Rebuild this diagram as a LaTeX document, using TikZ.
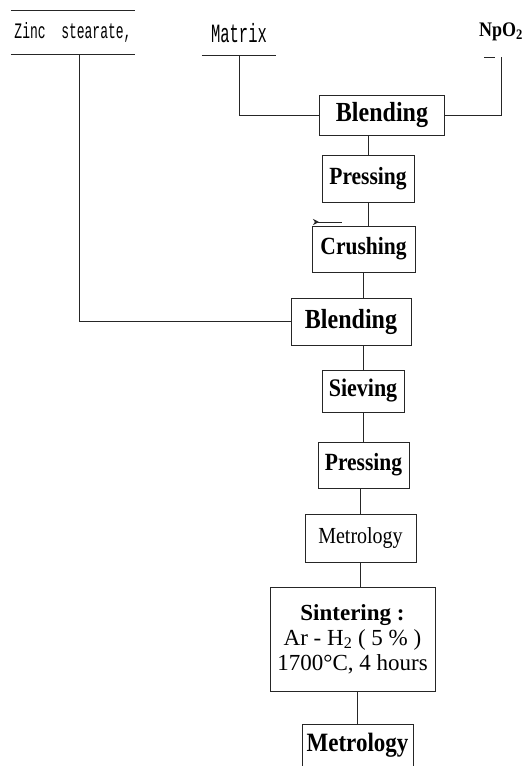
\documentclass[tikz,border=0pt]{standalone}
\usepackage{fontspec}
\usepackage{graphicx}
\setmainfont{Liberation Serif}
\setmonofont{Liberation Mono}
\usetikzlibrary{arrows.meta}

\newcommand{\stepbf}[2]{\scalebox{1}[1.15]{\fontsize{#1}{#1}\selectfont\bfseries #2}}
\newcommand{\steprm}[2]{\scalebox{1}[1.15]{\fontsize{#1}{#1}\selectfont #2}}
\newcommand{\monotxt}[2]{\scalebox{1}[1.7]{\fontsize{#1}{#1}\selectfont\ttfamily #2}}

\tikzset{
  ln/.style={draw=black!85, line width=0.6pt},
  stepbox/.style={ln, inner sep=0pt, align=center},
  bare/.style={inner sep=0pt, align=center},
}

\begin{document}
\begin{tikzpicture}[x=1pt,y=-1pt]
\useasboundingbox (0,0) rectangle (526,766);
\clip (0,0) rectangle (526,766);
\fill[white] (0,0) rectangle (526,766);

% raw materials
\node[bare, minimum width=124pt, minimum height=44pt] (zinc) at (73,32)
  {\monotxt{13}{Zinc\ \ stearate,}};
\node[bare, minimum width=74pt, minimum height=44pt] (matrix) at (239,33)
  {\monotxt{15.5}{Matrix}};
\node[bare, minimum width=40pt, minimum height=50pt] (npo2) at (501,32)
  {\scalebox{1}[1.15]{\fontsize{18}{18}\selectfont\bfseries NpO\textsubscript{2}}};
\draw[ln] (zinc.north west) -- (zinc.north east);
\draw[ln] (zinc.south west) -- (zinc.south east);
\draw[ln] (matrix.south west) -- (matrix.south east);
\draw[ln] ([xshift=-17pt]npo2.south) -- ([xshift=-6pt]npo2.south);

% process steps
\node[stepbox, minimum width=125pt, minimum height=40pt] (blend1) at (382,115) {\stepbf{24}{Blending}};
\node[stepbox, minimum width=92pt, minimum height=47pt] (press1) at (368,178.5) {\stepbf{21.5}{Pressing}};
\node[stepbox, minimum width=103pt, minimum height=46pt] (crush) at (363.5,249) {\stepbf{21.5}{Crushing}};
\node[stepbox, minimum width=120pt, minimum height=47pt] (blend2) at (351,321.5) {\stepbf{24}{Blending}};
\node[stepbox, minimum width=82pt, minimum height=42pt] (sieve) at (363,391) {\stepbf{22}{Sieving}};
\node[stepbox, minimum width=91pt, minimum height=46pt] (press2) at (363.5,465) {\stepbf{21.5}{Pressing}};
\node[stepbox, minimum width=111pt, minimum height=48pt] (metro1) at (360.5,538) {\steprm{20}{Metrology}};
\node[stepbox, minimum width=165pt, minimum height=104pt, font=\fontsize{23}{25}\selectfont] (sinter) at (352.5,639)
  {{\bfseries Sintering :}\\Ar - H\textsubscript{2} ( 5 \% )\\1700°C, 4 hours};
\node[stepbox, minimum width=111pt, minimum height=42pt] (metro2) at (357.5,745) {\stepbf{23}{Metrology}};

% inputs
\coordinate (zdrop) at (79,321.5);
\draw[ln] (zinc.south -| zdrop) |- (blend2.west);
\draw[ln] (matrix.south) |- (blend1.west);
\draw[ln] (npo2.south) |- (blend1.east);

% main chain
\draw[ln] (press1.north |- blend1.south) -- (press1.north);
\draw[ln] (press1.south) -- (press1.south |- crush.north);
\draw[ln] (crush.south) -- (crush.south |- blend2.north);
\draw[ln] (sieve.north |- blend2.south) -- (sieve.north);
\draw[ln] (sieve.south) -- (sieve.south |- press2.north);
\draw[ln] (metro1.north |- press2.south) -- (metro1.north);
\draw[ln] (metro1.south) -- (metro1.south |- sinter.north);
\draw[ln] (metro2.north |- sinter.south) -- (metro2.north);

% arrow fragment above Crushing
\coordinate (ar1) at (313,222);
\coordinate (ar2) at (342,222);
\draw[ln, {Stealth[reversed,length=6pt,width=6pt]}-] (ar1) -- (ar2);
\end{tikzpicture}
\end{document}
